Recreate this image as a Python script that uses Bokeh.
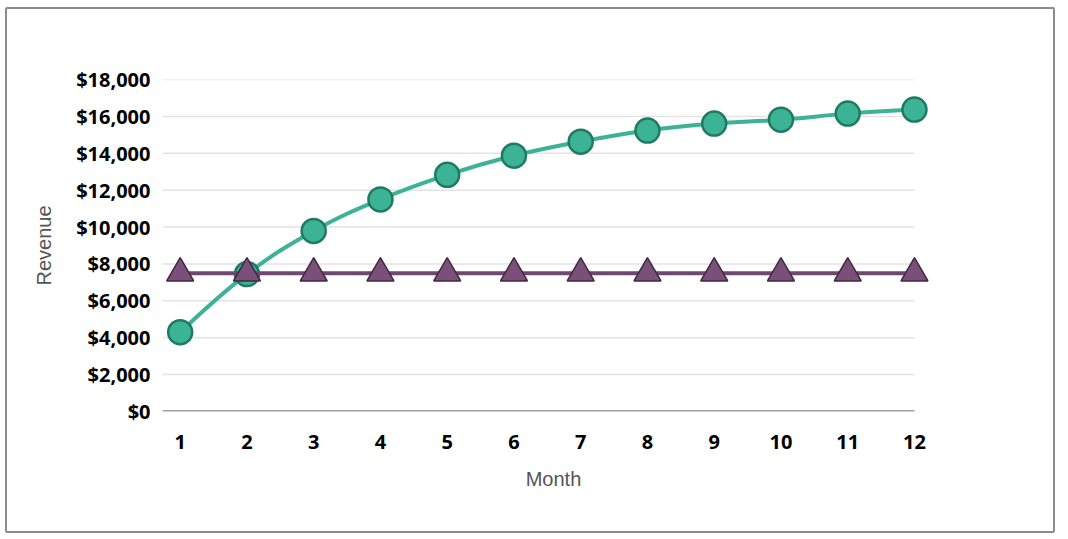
from bokeh.plotting import figure
from bokeh.models import Range1d, NumeralTickFormatter, FixedTicker, ColumnDataSource
from bokeh.embed import file_html
from bokeh.resources import INLINE

months = [1, 2, 3, 4, 5, 6, 7, 8, 9, 10, 11, 12]
revenue = [4300, 7450, 9790, 11500, 12830, 13870, 14630, 15230, 15610, 15820, 16150, 16370]
target = [7500, 7500, 7500, 7500, 7500, 7500, 7500, 7500, 7500, 7500, 7500, 7500]
y_ticks = [0, 2000, 4000, 6000, 8000, 10000, 12000, 14000, 16000, 18000]

GREEN = "#3bb394"
GREEN_DARK = "#1e7a62"
PURPLE_LINE = "#6e4870"
PURPLE_FILL = "#7a4f79"
PURPLE_DARK = "#43293f"

X0, X1 = 0.735, 12.0

p = figure(width=1050, height=526, output_backend="svg", toolbar_location=None,
           x_range=Range1d(X0, 12.45), y_range=Range1d(0, 18000),
           min_border_left=155, min_border_right=113, min_border_top=70, min_border_bottom=124)
p.styles = {"border": "2px solid #8c8c8c", "border-radius": "2px",
            "margin-left": "5px", "margin-top": "7px"}
p.outline_line_color = None
p.background_fill_color = "white"

# horizontal grid lines, spanning the category area only
grid_y = y_ticks[1:]
p.segment(x0=[X0] * len(grid_y), x1=[X1] * len(grid_y), y0=grid_y, y1=grid_y,
          line_color="#e3e3e3", line_width=1.5)
# x axis baseline
p.segment(x0=[X0], x1=[X1], y0=[0], y1=[0], line_color="#a0a0a0", line_width=3)

# spline control points (Highcharts-like smoothing) computed from the data
sm = 1.5
n = len(months)
lcx, lcy, rcx, rcy = [], [], [], []
for i in range(n):
    px, py = months[i], revenue[i]
    if 0 < i < n - 1:
        lx = (sm * px + months[i - 1]) / (sm + 1)
        ly = (sm * py + revenue[i - 1]) / (sm + 1)
        rx = (sm * px + months[i + 1]) / (sm + 1)
        ry = (sm * py + revenue[i + 1]) / (sm + 1)
        corr = ((ry - ly) * (rx - px)) / (rx - lx) + py - ry
        ly += corr
        ry += corr
    else:
        lx, ly, rx, ry = px, py, px, py
    lcx.append(lx); lcy.append(ly); rcx.append(rx); rcy.append(ry)

seg = ColumnDataSource(dict(
    x0=months[:-1], y0=revenue[:-1], x1=months[1:], y1=revenue[1:],
    cx0=rcx[:-1], cy0=rcy[:-1], cx1=lcx[1:], cy1=lcy[1:]))
p.bezier(x0="x0", y0="y0", x1="x1", y1="y1", cx0="cx0", cy0="cy0", cx1="cx1", cy1="cy1",
         source=seg, line_color=GREEN, line_width=4)
p.scatter(months, revenue, marker="circle", size=24, fill_color=GREEN,
          line_color=GREEN_DARK, line_width=2.5)

p.line(months, target, line_color=PURPLE_LINE, line_width=4)
p.scatter(months, target, marker="triangle", size=27, fill_color=PURPLE_FILL,
          line_color=PURPLE_DARK, line_width=1.5)

p.xgrid.grid_line_color = None
p.ygrid.grid_line_color = None

p.yaxis.ticker = FixedTicker(ticks=y_ticks)
p.yaxis.formatter = NumeralTickFormatter(format="$0,0")
p.yaxis.axis_line_color = None
p.yaxis.major_tick_line_color = None
p.yaxis.minor_tick_line_color = None
p.yaxis.major_tick_out = 0
p.yaxis.major_tick_in = 0
p.yaxis.major_label_standoff = 12
p.yaxis.axis_label = "Revenue"
p.yaxis.axis_label_standoff = 18

p.xaxis.ticker = FixedTicker(ticks=months)
p.xaxis.axis_line_color = None
p.xaxis.major_tick_line_color = None
p.xaxis.minor_tick_line_color = None
p.xaxis.major_tick_out = 0
p.xaxis.major_tick_in = 0
p.xaxis.major_label_standoff = 23
p.xaxis.axis_label = "Month"
p.xaxis.axis_label_standoff = 16

for ax in (p.xaxis, p.yaxis):
    ax.major_label_text_font = "Open Sans"
    ax.major_label_text_font_style = "bold"
    ax.major_label_text_font_size = "20px"
    ax.major_label_text_color = "#000000"
    ax.axis_label_text_font = "Liberation Sans"
    ax.axis_label_text_font_style = "normal"
    ax.axis_label_text_font_size = "20px"
    ax.axis_label_text_color = "#555555"

open("out.html", "w").write(file_html(p, INLINE))
